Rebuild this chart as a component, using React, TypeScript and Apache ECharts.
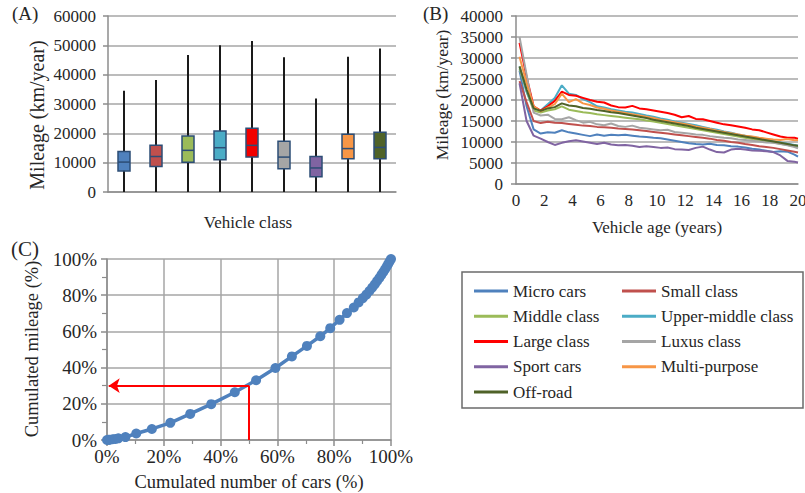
import React, { useEffect, useRef } from "react";
import * as echarts from "echarts";

// ---------- Panel A: box plots ----------
const classes = [
  "Micro cars",
  "Small class",
  "Middle class",
  "Upper-middle class",
  "Large class",
  "Luxus class",
  "Sport cars",
  "Multi-purpose",
  "Off-road",
];
const classColors = [
  "#4F81BD",
  "#C0504D",
  "#9BBB59",
  "#4BACC6",
  "#F20000",
  "#A5A5A5",
  "#8064A2",
  "#F79646",
  "#4F6228",
];
const whiskerMin = [0, 0, 0, 0, 0, 0, 0, 0, 0];
const q1 = [7200, 8700, 10100, 11000, 11900, 7900, 5200, 11300, 11300];
const medians = [10200, 12100, 14200, 15100, 15900, 11900, 8200, 14800, 15200];
const q3 = [13800, 15900, 19100, 20800, 21700, 17300, 12100, 19700, 20400];
const whiskerMax = [34500, 38200, 46700, 50000, 51500, 45900, 31900, 46100, 48900];

// ---------- Panel B: mileage vs vehicle age ----------
const ages = [
  0.25, 0.75, 1.25, 1.75, 2.25, 2.75, 3.25, 3.75, 4.25, 4.75, 5.25, 5.75, 6.25, 6.75,
  7.25, 7.75, 8.25, 8.75, 9.25, 9.75, 10.25, 10.75, 11.25, 11.75, 12.25, 12.75, 13.25,
  13.75, 14.25, 14.75, 15.25, 15.75, 16.25, 16.75, 17.25, 17.75, 18.25, 18.75, 19.25,
  19.75, 20,
];
const microCars = [
  27000, 18500, 13000, 12000, 12300, 12200, 12800, 12300, 12000, 11700, 11400, 11800,
  11500, 11700, 11600, 11700, 11500, 11300, 11200, 11000, 10900, 10600, 10300, 10000,
  9700, 9500, 9400, 9600, 9300, 9200, 9000, 8900, 8700, 8400, 8200, 7900, 7600, 7800,
  7700, 7000, 6500,
];
const smallClass = [
  24500, 19500, 15000, 14500, 14800, 14600, 14500, 14300, 14100, 13900, 13800, 13600,
  13500, 13400, 13200, 13100, 13000, 12800, 12600, 12400, 12200, 12000, 11800, 11600,
  11400, 11200, 11000, 10800, 10500, 10300, 10000, 9800, 9500, 9300, 9000, 8800, 8600,
  8300, 8000, 7700, 7500,
];
const middleClass = [
  27500, 22000, 17500, 17000, 17500, 17800, 18500, 17700, 17400, 17100, 16900, 16600,
  16400, 16200, 16000, 15800, 15600, 15400, 15100, 14900, 14600, 14300, 14000, 13700,
  13400, 13100, 12800, 12500, 12200, 11900, 11600, 11300, 11000, 10700, 10400, 10100,
  9900, 9600, 9300, 9000, 8800,
];
const upperMiddleClass = [
  28000, 22000, 18000, 17500, 19000, 20500, 23500, 21500, 21200, 20200, 19500, 18500,
  18200, 17800, 17500, 17200, 17000, 16700, 16300, 16000, 15600, 15300, 14900, 14600,
  14300, 14000, 13600, 13200, 12900, 12500, 12200, 11800, 11500, 11200, 10900, 10500,
  10200, 9900, 9600, 9300, 9100,
];
const largeClass = [
  33600, 25500, 18500, 17500, 18500, 19800, 22000, 21200, 21000, 20500, 20000, 19600,
  19400, 18700, 18300, 18200, 18600, 18000, 17800, 17500, 17200, 16900, 16500, 15900,
  16200, 15500, 15400, 15000, 14600, 14200, 14000, 13700, 13400, 13000, 12800, 12300,
  11800, 11300, 11000, 11000, 10800,
];
const luxusClass = [
  35000, 26000, 17000, 16300, 16500, 15500, 15400, 15900, 15200, 14600, 14800, 14200,
  14000, 14400, 13800, 13600, 13900, 13400, 13200, 13000, 12800, 12900, 12400, 12200,
  12000, 11800, 11700, 11400, 11200, 11000, 10900, 10600, 10500, 10300, 10100, 9900,
  9800, 9500, 9200, 8800, 8500,
];
const sportCars = [
  24000, 15000, 11500, 10800, 10000, 9300, 9800, 10200, 10400, 10100, 9800, 9500, 9800,
  9400, 9200, 9300, 9100, 8800, 9000, 8800, 8600, 8700, 8300, 8200, 8100, 8600, 8900,
  8200, 7600, 7500, 8200, 8400, 8200, 8000, 7900, 7800, 7600, 6800, 5500, 5300, 5100,
];
const multiPurpose = [
  30300, 24000, 18500, 17300, 18200, 19000, 21500, 19500, 20200, 19200, 18800, 18200,
  17900, 17500, 17200, 16900, 16600, 16300, 16000, 15700, 15300, 15000, 14700, 14400,
  14100, 13700, 13400, 13100, 12700, 12400, 12100, 11800, 11500, 11300, 11000, 10800,
  10600, 10500, 10700, 10400, 10500,
];
const offRoad = [
  28000, 22500, 18000, 17400, 18000, 18300, 19200, 18700, 18500, 18100, 17900, 17600,
  17400, 17100, 16900, 16600, 16300, 16000, 15700, 15300, 15000, 14700, 14400, 14100,
  13800, 13400, 13100, 12800, 12500, 12200, 11900, 11600, 11300, 11000, 10700, 10400,
  10100, 9800, 9500, 9200, 9100,
];
const ageSeries = [
  microCars,
  smallClass,
  middleClass,
  upperMiddleClass,
  largeClass,
  luxusClass,
  sportCars,
  multiPurpose,
  offRoad,
];
const lineColors = [
  "#4F81BD",
  "#C0504D",
  "#9BBB59",
  "#4BACC6",
  "#FF0000",
  "#A5A5A5",
  "#8064A2",
  "#F79646",
  "#4F6228",
];

// ---------- Panel C: cumulated curve ----------
const cumCars = [
  0, 0.5, 1, 2, 3, 4, 6.5, 10.3, 15.8, 22.3, 29.3, 36.7, 45, 52.5, 59.3, 65.1, 70.4,
  75.1, 78.6, 81.9, 84.5, 86.9, 88.6, 90.1, 91.3, 92.4, 93.4, 94.3, 95.1, 95.9, 96.6,
  97.3, 97.9, 98.5, 99, 99.5, 100,
];
const cumMileage = [
  0, 0.1, 0.2, 0.4, 0.6, 0.9, 1.6, 3.6, 6.1, 9.5, 14.4, 19.8, 26.4, 33, 39.8, 46.2,
  52, 57.3, 61.8, 66.4, 70.1, 73.2, 76, 78.4, 80.3, 82.3, 84.2, 86, 87.8, 89.5, 91.2,
  92.8, 94.3, 95.8, 97.2, 98.6, 100,
];
const halfCars = 50;
const halfCarsMileage = 30;

const FONT = "Liberation Serif, Times New Roman, serif";
const TXT = "#262626";
const GRID = "#a6a6a6";
const AXIS = "#8c8c8c";

export default function App() {
  const ref = useRef<HTMLDivElement>(null);

  useEffect(() => {
    if (!ref.current) return;
    const chart = echarts.init(ref.current, undefined, { renderer: "svg" });

    const plain = (v: number) => String(v);
    const pct = (v: number) => v + "%";
    const valueLabel = (size: number, margin: number, fmt: (v: number) => string) => ({
      fontFamily: FONT,
      fontSize: size,
      color: TXT,
      margin,
      formatter: fmt,
    });

    const boxData = classes.map((_, i) => [
      i,
      whiskerMin[i],
      q1[i],
      medians[i],
      q3[i],
      whiskerMax[i],
    ]);

    const lineSeries = classes.map((name, k) => ({
      name,
      type: "line",
      xAxisIndex: 1,
      yAxisIndex: 1,
      data: ages.map((a, j) => [a, ageSeries[k][j]]),
      showSymbol: false,
      symbol: "none",
      lineStyle: { color: lineColors[k], width: 2 },
      itemStyle: { color: lineColors[k] },
      z: 3,
    }));

    const legendText = {
      fontFamily: FONT,
      fontSize: 17,
      color: TXT,
      lineHeight: 20,
    };

    const option: any = {
      animation: false,
      backgroundColor: "#ffffff",
      textStyle: { fontFamily: FONT },
      grid: [
        { left: 108, top: 16, width: 288, height: 176, containLabel: false, outerBoundsMode: "none" },
        { left: 516, top: 16, width: 282, height: 168, containLabel: false, outerBoundsMode: "none" },
        { left: 107, top: 259, width: 284, height: 181, containLabel: false, outerBoundsMode: "none" },
      ],
      legend: [
        {
          orient: "vertical",
          left: 474,
          top: 281,
          itemWidth: 34,
          itemHeight: 3,
          itemGap: 5.25,
          icon: "rect",
          padding: 0,
          textStyle: legendText,
          data: [classes[0], classes[2], classes[4], classes[6], classes[8]],
        },
        {
          orient: "vertical",
          left: 622,
          top: 281,
          itemWidth: 34,
          itemHeight: 3,
          itemGap: 5.25,
          icon: "rect",
          padding: 0,
          textStyle: legendText,
          data: [classes[1], classes[3], classes[5], classes[7]],
        },
      ],
      xAxis: [
        {
          type: "category",
          gridIndex: 0,
          data: classes,
          axisLine: { show: true, lineStyle: { color: AXIS, width: 1.5 } },
          axisTick: { show: false },
          axisLabel: { show: false },
          splitLine: { show: false },
        },
        {
          type: "value",
          gridIndex: 1,
          min: 0,
          max: 20,
          interval: 2,
          axisLine: { show: true, lineStyle: { color: AXIS, width: 1.5 } },
          axisTick: { show: false },
          axisLabel: valueLabel(17, 8, plain),
          splitLine: { show: false },
        },
        {
          type: "value",
          gridIndex: 2,
          min: 0,
          max: 100,
          interval: 20,
          axisLine: { show: true, lineStyle: { color: AXIS, width: 1.5 } },
          axisTick: { show: true, length: 6, lineStyle: { color: AXIS, width: 1.5 } },
          minorTick: { show: true, splitNumber: 2, length: 4, lineStyle: { color: AXIS, width: 1.2 } },
          axisLabel: valueLabel(19, 7, pct),
          splitLine: { show: true, lineStyle: { color: GRID, width: 1.5 } },
        },
      ],
      yAxis: [
        {
          type: "value",
          gridIndex: 0,
          min: 0,
          max: 60000,
          interval: 10000,
          axisLine: { show: true, lineStyle: { color: AXIS, width: 1.5 } },
          axisTick: { show: true, length: 5, lineStyle: { color: AXIS, width: 1.5 } },
          axisLabel: valueLabel(17, 12, plain),
          splitLine: { show: true, lineStyle: { color: GRID, width: 1.5 } },
        },
        {
          type: "value",
          gridIndex: 1,
          min: 0,
          max: 40000,
          interval: 5000,
          axisLine: { show: true, lineStyle: { color: AXIS, width: 1.5 } },
          axisTick: { show: true, length: 5, lineStyle: { color: AXIS, width: 1.5 } },
          axisLabel: valueLabel(17, 13, plain),
          splitLine: { show: true, lineStyle: { color: GRID, width: 1.5 } },
        },
        {
          type: "value",
          gridIndex: 2,
          min: 0,
          max: 100,
          interval: 20,
          axisLine: { show: true, lineStyle: { color: AXIS, width: 1.5 } },
          axisTick: { show: true, length: 6, lineStyle: { color: AXIS, width: 1.5 } },
          minorTick: { show: true, splitNumber: 2, length: 5, lineStyle: { color: AXIS, width: 1.2 } },
          axisLabel: valueLabel(19, 10, pct),
          splitLine: { show: true, lineStyle: { color: GRID, width: 1.5 } },
        },
      ],
      series: [
        {
          type: "custom",
          name: "Vehicle class boxes",
          xAxisIndex: 0,
          yAxisIndex: 0,
          data: boxData,
          encode: { x: 0, y: [1, 2, 3, 4, 5] },
          renderItem: (params: any, api: any) => {
            const i = api.value(0);
            const lo = api.coord([i, api.value(1)]);
            const b1 = api.coord([i, api.value(2)]);
            const md = api.coord([i, api.value(3)]);
            const b3 = api.coord([i, api.value(4)]);
            const hi = api.coord([i, api.value(5)]);
            const w = 12;
            const x = lo[0];
            const color = classColors[params.dataIndex];
            return {
              type: "group",
              children: [
                {
                  type: "line",
                  shape: { x1: x, y1: lo[1], x2: x, y2: hi[1] },
                  style: { stroke: "#1a1a1a", lineWidth: 2 },
                },
                {
                  type: "rect",
                  shape: { x: x - w / 2, y: b3[1], width: w, height: b1[1] - b3[1] },
                  style: { fill: color, stroke: "#2c4d75", lineWidth: 1.5 },
                },
                {
                  type: "line",
                  shape: { x1: x - w / 2, y1: md[1], x2: x + w / 2, y2: md[1] },
                  style: { stroke: "#2c4d75", lineWidth: 1.5 },
                },
              ],
            };
          },
          z: 3,
        },
        ...lineSeries,
        {
          type: "line",
          name: "Cumulated",
          xAxisIndex: 2,
          yAxisIndex: 2,
          data: cumCars.map((c, i) => [c, cumMileage[i]]),
          symbol: "circle",
          symbolSize: 10,
          showSymbol: true,
          lineStyle: { color: "#4F81BD", width: 3.5 },
          itemStyle: { color: "#4F81BD" },
          z: 3,
        },
        {
          type: "lines",
          coordinateSystem: "cartesian2d",
          xAxisIndex: 2,
          yAxisIndex: 2,
          symbol: "none",
          lineStyle: { color: "#ff0000", width: 2, opacity: 1 },
          data: [{ coords: [[halfCars, 0], [halfCars, halfCarsMileage]] }],
          z: 4,
        },
        {
          type: "lines",
          coordinateSystem: "cartesian2d",
          xAxisIndex: 2,
          yAxisIndex: 2,
          symbol: ["none", "arrow"],
          symbolSize: 11,
          lineStyle: { color: "#ff0000", width: 2, opacity: 1 },
          data: [{ coords: [[halfCars, halfCarsMileage], [0.6, halfCarsMileage]] }],
          z: 4,
        },
      ],
      graphic: [
        {
          type: "text",
          left: 12,
          top: 4,
          style: { text: "(A)", fontFamily: FONT, fontSize: 19, fill: TXT },
        },
        {
          type: "text",
          left: 423,
          top: 4,
          style: { text: "(B)", fontFamily: FONT, fontSize: 19, fill: TXT },
        },
        {
          type: "text",
          left: 11,
          top: 238,
          style: { text: "(C)", fontFamily: FONT, fontSize: 21, fill: TXT },
        },
        {
          type: "text",
          x: 37,
          y: 115,
          rotation: Math.PI / 2,
          style: {
            text: "Mileage (km/year)",
            fontFamily: FONT,
            fontSize: 20,
            fill: TXT,
            align: "center",
            verticalAlign: "middle",
          },
        },
        {
          type: "text",
          x: 248,
          y: 222,
          style: {
            text: "Vehicle class",
            fontFamily: FONT,
            fontSize: 17,
            fill: TXT,
            align: "center",
            verticalAlign: "middle",
          },
        },
        {
          type: "text",
          x: 442,
          y: 95,
          rotation: Math.PI / 2,
          style: {
            text: "Mileage (km/year)",
            fontFamily: FONT,
            fontSize: 17.5,
            fill: TXT,
            align: "center",
            verticalAlign: "middle",
          },
        },
        {
          type: "text",
          x: 657,
          y: 227,
          style: {
            text: "Vehicle age (years)",
            fontFamily: FONT,
            fontSize: 17,
            fill: TXT,
            align: "center",
            verticalAlign: "middle",
          },
        },
        {
          type: "text",
          x: 32,
          y: 349,
          rotation: Math.PI / 2,
          style: {
            text: "Cumulated mileage (%)",
            fontFamily: FONT,
            fontSize: 18.5,
            fill: TXT,
            align: "center",
            verticalAlign: "middle",
          },
        },
        {
          type: "text",
          x: 249,
          y: 482,
          style: {
            text: "Cumulated number of cars (%)",
            fontFamily: FONT,
            fontSize: 18.5,
            fill: TXT,
            align: "center",
            verticalAlign: "middle",
          },
        },
        {
          type: "rect",
          shape: { x: 462, y: 272, width: 341, height: 136 },
          style: { fill: "none", stroke: "#6b6b6b", lineWidth: 1.5 },
          z: -1,
        },
      ],
    };

    chart.setOption(option);
    return () => chart.dispose();
  }, []);

  return (
    <div
      ref={ref}
      style={{ position: "fixed", left: 0, top: 0, width: 805, height: 493, background: "#fff" }}
    />
  );
}
